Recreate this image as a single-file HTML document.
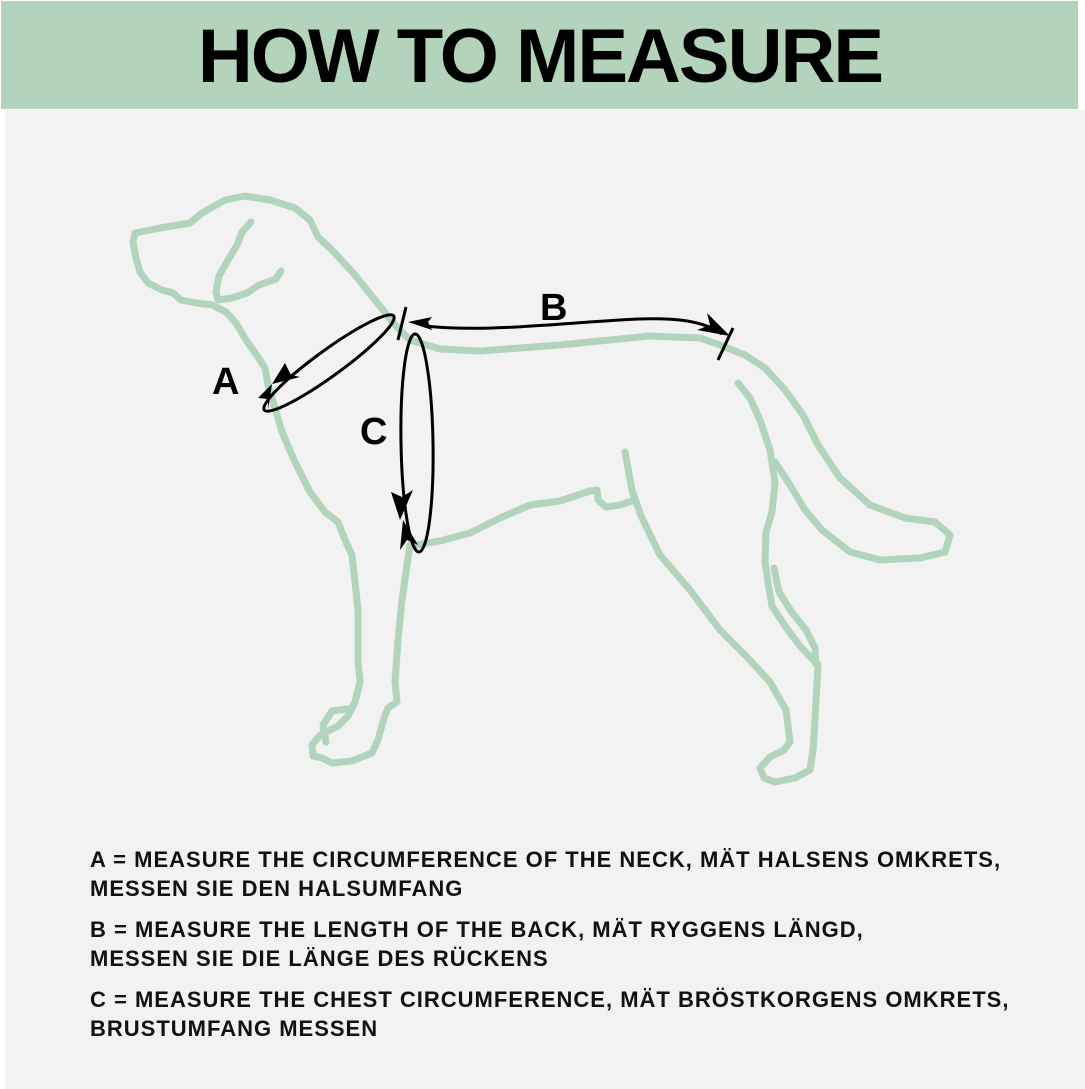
<!DOCTYPE html>
<html><head><meta charset="utf-8"><style>
html,body{margin:0;padding:0;background:#fff;}
body{width:1085px;height:1089px;position:relative;overflow:hidden;font-family:"Liberation Sans",sans-serif;}
.hdr{position:absolute;left:1px;top:1px;width:1077px;height:108px;background:#b3d3bb;}
.bg{position:absolute;left:5px;top:110px;width:1080px;height:979px;background:#f2f2f2;}
.title{position:absolute;left:0;width:1080px;top:14px;text-align:center;font-weight:bold;font-size:76px;line-height:86px;letter-spacing:-2px;color:#000;}
.txt{position:absolute;left:90px;font-weight:bold;font-size:22px;line-height:29px;letter-spacing:1px;color:#111;white-space:nowrap;}
</style></head><body>
<div class="hdr"></div><div class="bg"></div>
<div class="title">HOW TO MEASURE</div>
<svg style="position:absolute;left:0;top:0" width="1085" height="1089">
<g fill="none" stroke="#b3d4bc" stroke-width="7" stroke-linecap="round" stroke-linejoin="round">
<path d="M133,242 L135,233 L160,228 L190,223 L202,213 L225,200 L245,196 L270,200 L295,208 L310,220 L318,237 L332,250 L355,275 L375,300 L395,325 L410,340 L440,349 L480,351 L560,345 L650,336 L700,338 L720,345 L745,355 L765,368 L785,390 L803,415 L818,445 L840,478 L870,505 L905,518 L935,522 L950,535 L945,552 L920,558 L880,560 L850,552 L822,530 L805,510 L790,485 L775,462"/>
<path d="M133,242 L136,258 L140,272 L148,283 L162,290 L173,293 L181,300 L196,303 L212,305 L226,312 L236,323 L246,340 L258,357 L265,368 L268,385 L275,408 L282,432 L295,462 L310,492 L325,512 L338,522 L345,540 L352,555 L355,582 L358,610 L358,660 L360,682 L355,702 L348,716 L338,726 L320,735 L312,745 L313,756 L322,758 L332,763 L352,761 L372,753 L378,740 L384,718 L388,708 L397,702 L395,682 L398,640 L402,600 L407,565 L410,545"/>
<path d="M326,742 L323,725 L332,711 L347,709"/>
<path d="M415,545 L440,541 L470,533 L500,518 L530,505 L560,501 L590,491 L597,490 L598,500 L606,507 L620,505 L635,500"/>
<path d="M625,452 L632,490 L641,516 L660,555 L690,590 L720,630 L746,656 L770,682 L786,710 L790,742 L784,750 L770,757 L760,768 L764,778 L775,782 L795,778 L810,770 L813,750 L815,720 L818,665 L812,656"/>
<path d="M738,383 L750,398 L760,420 L770,450 L775,482 L772,512 L766,532 L765,562 L768,582 L772,606 L785,626 L800,646 L815,662"/>
<path d="M774,568 L779,592 L791,611 L806,630 L815,648 L816,664"/>
<path d="M251,222 L242,232 L237,245 L228,260 L219,276 L216,292 L218,300 L232,298 L247,293 L259,285 L276,279 L281,271"/>
</g>
<g fill="none" stroke="#000" stroke-width="3">
<ellipse cx="329" cy="363" rx="80" ry="13" transform="rotate(-36 329 363)"/>
<ellipse cx="417" cy="443" rx="16" ry="109" transform="rotate(-1 417 443)"/>
<path d="M425,326 C480,332 540,325 620,320 C680,316 705,322 722,334"/>
<line x1="406" y1="307" x2="398" y2="340"/>
<line x1="733" y1="328" x2="718" y2="360"/>
</g>
<g fill="#000">
<polygon points="272,384 285,363 291,375 300,377"/>
<polygon points="272,384 258,398 268,399 268,410"/>
<polygon points="400,520 391,492 402,497 413,490"/>
<polygon points="403,520 400,550 407,540 418,545"/>
<polygon points="408,322 432,317 428,322 432,330"/>
<polygon points="730,336 707,313 710,325 697,330"/>
</g>
<g font-family="Liberation Sans,sans-serif" font-weight="bold" font-size="38" fill="#000">
<text x="212" y="394">A</text>
<text x="540" y="320">B</text>
<text x="360" y="444">C</text>
</g>
</svg>
<div class="txt" style="top:845px">A = MEASURE THE CIRCUMFERENCE OF THE NECK, MÄT HALSENS OMKRETS,<br>MESSEN SIE DEN HALSUMFANG</div>
<div class="txt" style="top:915px">B = MEASURE THE LENGTH OF THE BACK, MÄT RYGGENS LÄNGD,<br>MESSEN SIE DIE LÄNGE DES RÜCKENS</div>
<div class="txt" style="top:985px">C = MEASURE THE CHEST CIRCUMFERENCE, MÄT BRÖSTKORGENS OMKRETS,<br>BRUSTUMFANG MESSEN</div>
</body></html>
